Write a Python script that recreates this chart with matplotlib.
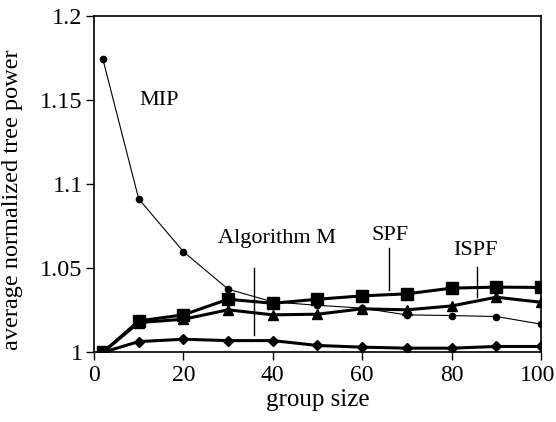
import matplotlib
matplotlib.use('Agg')
import matplotlib.pyplot as plt
import matplotlib.transforms as mtransforms

# group sizes and average normalized tree power per algorithm
group_size = [2, 10, 20, 30, 40, 50, 60, 70, 80, 90, 100]
mip = [1.1743, 1.0913, 1.0599, 1.0376, 1.0300, 1.0280, 1.0263, 1.0223, 1.0219, 1.0213, 1.0168]
spf = [1.0000, 1.0187, 1.0223, 1.0316, 1.0292, 1.0316, 1.0336, 1.0348, 1.0382, 1.0388, 1.0386]
ispf = [1.0000, 1.0177, 1.0197, 1.0253, 1.0223, 1.0227, 1.0259, 1.0253, 1.0276, 1.0328, 1.0298]
alg_m = [1.0000, 1.0064, 1.0078, 1.0070, 1.0070, 1.0041, 1.0031, 1.0025, 1.0025, 1.0035, 1.0035]

plt.rcParams['font.family'] = ['Liberation Serif', 'DejaVu Serif']

fig = plt.figure(figsize=(5.56, 4.22), dpi=100)
ax = fig.add_axes([0.169, 0.165, 0.804, 0.797])

ax.plot(group_size, mip, color='black', lw=0.8, marker='o', ms=4.5)
ax.plot(group_size, alg_m, color='black', lw=2.2, marker='D', ms=5.5)
ax.plot(group_size, ispf, color='black', lw=2.2, marker='^', ms=7.5)
ax.plot(group_size, spf, color='black', lw=2.2, marker='s', ms=8)

# curve labels with their leader lines
ax.text(14.6, 1.1495, 'MIP', fontsize=16, ha='center', va='center')
ax.text(40.9, 1.068, 'Algorithm M', fontsize=16, ha='center', va='center')
ax.plot([35.9, 35.9], [1.0104, 1.050], color='black', lw=1)
ax.text(66.2, 1.0693, 'SPF', fontsize=16, ha='center', va='center')
ax.plot([66.1, 66.1], [1.0372, 1.0621], color='black', lw=1)
ax.text(85.4, 1.0605, 'ISPF', fontsize=16, ha='center', va='center')
ax.plot([85.6, 85.6], [1.0328, 1.0507], color='black', lw=1)

ax.set_xlim(0, 100)
ax.set_ylim(1, 1.2)
ax.set_xticks([0, 20, 40, 60, 80, 100])
ax.set_yticks([1, 1.05, 1.1, 1.15, 1.2])
ax.set_yticklabels(['1', '1.05', '1.1', '1.15', '1.2'])
ax.tick_params(direction='out', length=6, width=1, labelsize=17.5)
ax.tick_params(axis='x', pad=3, labelsize=17)
ax.tick_params(axis='y', pad=2)
for s in ax.spines.values():
    s.set_linewidth(1.2)

# nudge the last x tick label so it stays inside the figure
last = ax.get_xticklabels()[-1]
last.set_transform(last.get_transform() + mtransforms.ScaledTranslation(-3 / 100, 0, fig.dpi_scale_trans))

ax.set_xlabel('group size', fontsize=18, labelpad=2)
ax.set_ylabel('average normalized tree power', fontsize=17.5)
ax.yaxis.set_label_coords(-0.158, 0.453)

fig.savefig('out.png', dpi=100)
